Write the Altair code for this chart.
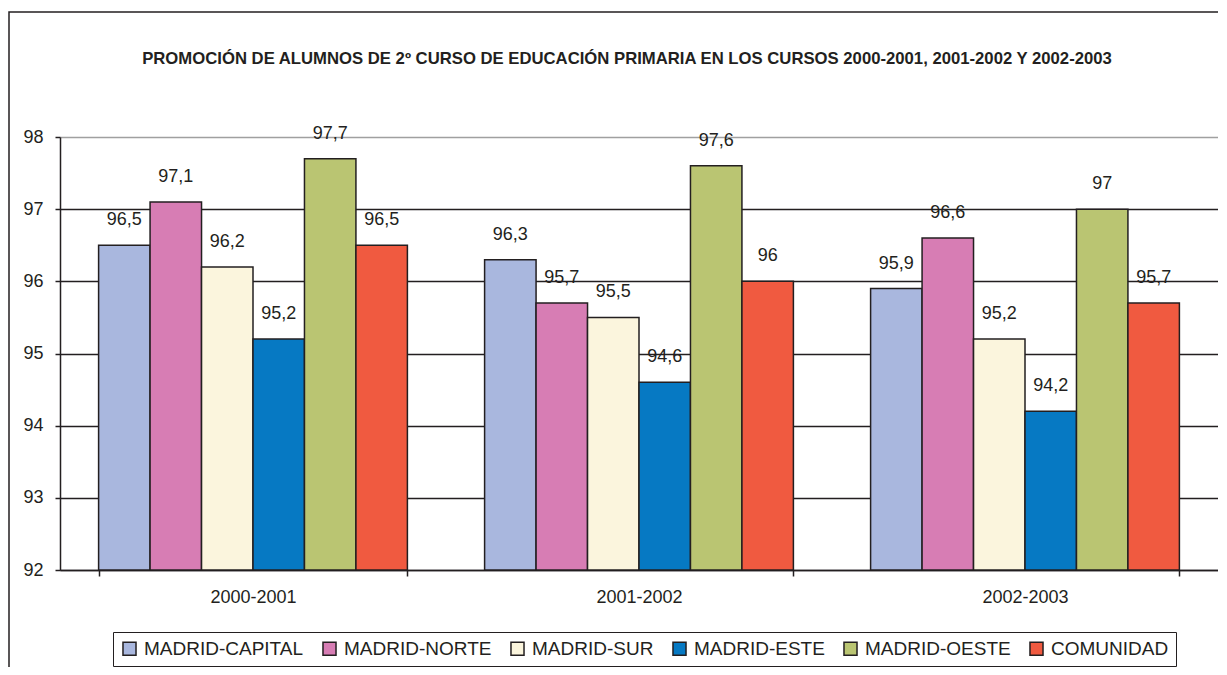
import altair as alt
import pandas as pd

years = ["2000-2001", "2001-2002", "2002-2003"]
zones = ["MADRID-CAPITAL", "MADRID-NORTE", "MADRID-SUR", "MADRID-ESTE", "MADRID-OESTE", "COMUNIDAD"]
colors = ["#A9B7DE", "#D77DB4", "#FBF5DD", "#0679C3", "#BAC572", "#F05A40"]
v_capital = [96.5, 96.3, 95.9]
v_norte = [97.1, 95.7, 96.6]
v_sur = [96.2, 95.5, 95.2]
v_este = [95.2, 94.6, 94.2]
v_oeste = [97.7, 97.6, 97.0]
v_comunidad = [96.5, 96.0, 95.7]
y_ticks = [92, 93, 94, 95, 96, 97, 98]
title_text = ("PROMOCIÓN DE ALUMNOS DE 2º CURSO DE EDUCACIÓN PRIMARIA EN LOS CURSOS "
              "2000-2001, 2001-2002 Y 2002-2003")

series = [v_capital, v_norte, v_sur, v_este, v_oeste, v_comunidad]
rows = []
for z, vals in zip(zones, series):
    for yr, v in zip(years, vals):
        rows.append({"year": yr, "zone": z, "value": v,
                     "label": f"{v:g}".replace(".", ",")})
df = pd.DataFrame(rows)

W, H = 1158, 433
FONT = "Liberation Sans"
TXT = "#231F20"

x_enc = alt.X("year:N", sort=years,
              scale=alt.Scale(paddingInner=0.2, paddingOuter=0.1),
              axis=alt.Axis(title=None, labelAngle=0, tickBand="extent",
                            domainColor=TXT, domainWidth=1.5, tickColor=TXT,
                            tickWidth=1.5, tickSize=6, labelFont=FONT,
                            labelFontSize=18, labelColor=TXT, labelPadding=12))
xo_enc = alt.XOffset("zone:N", sort=zones, scale=alt.Scale(paddingInner=0, paddingOuter=0))
y_scale = alt.Scale(domain=[92, 98], nice=False, zero=False)

bars = alt.Chart(df).mark_bar(stroke=TXT, strokeWidth=1.5).encode(
    x=x_enc,
    xOffset=xo_enc,
    y=alt.Y("value:Q", scale=y_scale,
            axis=alt.Axis(values=y_ticks, format="d", title=None, domainColor=TXT,
                          domainWidth=1.5, tickColor=TXT, tickWidth=1.5, tickSize=5,
                          labelFont=FONT, labelFontSize=18, labelColor=TXT, labelPadding=12,
                          grid=True, gridWidth=1.5,
                          gridColor={"condition": {"test": "datum.value == 98", "value": "#A0A0A0"},
                                     "value": TXT})),
    y2=alt.datum(92),
    color=alt.Color("zone:N", sort=zones,
                    scale=alt.Scale(domain=zones, range=colors),
                    legend=alt.Legend(orient="none", legendX=53, legendY=495,
                                      direction="horizontal", columns=6, title=None,
                                      symbolType="square", symbolSize=170,
                                      symbolStrokeColor=TXT, symbolStrokeWidth=1.5,
                                      labelFont=FONT, labelFontSize=19, labelColor=TXT,
                                      labelOffset=5, columnPadding=15, padding=7,
                                      strokeColor=TXT, fillColor="white")),
)

labels = alt.Chart(df).mark_text(font=FONT, fontSize=18, color=TXT,
                                 baseline="alphabetic", dy=-20).encode(
    x=alt.X("year:N", sort=years),
    xOffset=alt.XOffset("zone:N", sort=zones),
    y=alt.Y("value:Q", scale=y_scale),
    text="label:N",
)

frame = alt.Chart(pd.DataFrame({"k": [0]})).mark_rect(
    fillOpacity=0, stroke=TXT, strokeWidth=1.5).encode(
    x=alt.value(-51), x2=alt.value(W + 40), y=alt.value(-125), y2=alt.value(H + 120))

title_mark = alt.Chart(pd.DataFrame({"t": [title_text]})).mark_text(
    font=FONT, fontSize=16.7, fontWeight="bold", color=TXT,
    align="center", baseline="alphabetic").encode(
    text="t:N", x=alt.value(567), y=alt.value(-73))

chart = alt.layer(frame, bars, labels, title_mark).properties(
    width=W, height=H,
    autosize=alt.AutoSizeParams(type="none"),
    padding={"left": 52, "top": 129, "right": 0, "bottom": 97},
).configure_view(fill="#6BBDE1", stroke=None).configure(background="white")

chart.save("out.html", embed_options={"renderer": "svg", "actions": False})
